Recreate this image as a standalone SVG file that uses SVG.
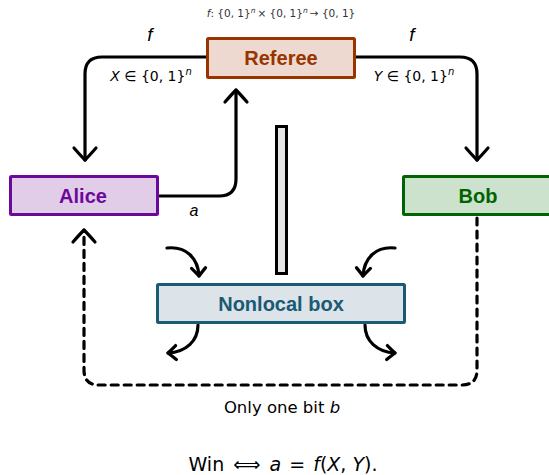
<svg xmlns="http://www.w3.org/2000/svg" width="549" height="475" viewBox="0 0 549 475">
<style>
text{font-family:"Liberation Sans","DejaVu Sans",sans-serif;text-anchor:middle;}
.lbl{font-weight:bold;font-size:20px;}
.t{font-family:"DejaVu Sans","Liberation Sans",sans-serif;}
.m{font-style:italic;}
.conn{fill:none;stroke:#000;stroke-width:3.2;stroke-linecap:round;stroke-linejoin:round;}
.dash{stroke-dasharray:7 6;stroke-linecap:round;}
.tip{fill:none;stroke:#000;stroke-width:3.2;stroke-linecap:round;stroke-linejoin:round;}
</style>
<defs>
<marker id="big" markerUnits="userSpaceOnUse" markerWidth="30" markerHeight="30" viewBox="-15 -15 30 30" refX="0" refY="0" orient="auto" overflow="visible">
<path class="tip" d="M-12,-11 Q-4,-4 0,0 Q-4,4 -12,11"/>
</marker>
<marker id="small" markerUnits="userSpaceOnUse" markerWidth="20" markerHeight="20" viewBox="-10 -10 20 20" refX="0" refY="0" orient="auto" overflow="visible">
<path class="tip" d="M-8,-7 Q-3,-2.5 0,0 Q-3,2.5 -8,7"/>
</marker>
</defs>

<g id="connectors">
<path class="conn" d="M207,57 H102 Q85,57 85,74 V160" marker-end="url(#big)"/>
<path class="conn" d="M355,57 H460 Q477,57 477,74 V160" marker-end="url(#big)"/>
<path class="conn" d="M158,196 H219 Q236,196 236,179 V90" marker-end="url(#big)"/>
<path class="conn dash" d="M477,218 V370 Q477,385 462,385 H99 Q84,385 84,370 V230" marker-end="url(#big)"/>
<path class="conn" d="M167,248 C186,246 198,258 199,276" marker-end="url(#small)"/>
<path class="conn" d="M395,248 C376,246 364,258 363,276" marker-end="url(#small)"/>
<path class="conn" d="M198,325 C198,341 186,352 168,353" marker-end="url(#small)"/>
<path class="conn" d="M365,325 C365,341 377,352 395,353" marker-end="url(#small)"/>
</g>

<g id="pillar">
<rect x="276.5" y="126.5" width="10" height="147" fill="#e6e6e6" stroke="#000" stroke-width="3"/>
</g>

<g id="referee">
<rect x="207.5" y="38.5" width="147" height="39" fill="#edd9cf" stroke="#993300" stroke-width="3" rx="1"/>
<text class="lbl" x="281" y="65" fill="#993300">Referee</text>
</g>

<g id="alice">
<rect x="10.5" y="176.5" width="147" height="38" fill="#e1cde8" stroke="#6b0a9a" stroke-width="3" rx="1"/>
<text class="lbl" x="83" y="203" fill="#6b0a9a">Alice</text>
</g>

<g id="bob">
<rect x="403.5" y="176.5" width="147" height="38" fill="#cde2cd" stroke="#006400" stroke-width="3" rx="1"/>
<text class="lbl" x="478" y="203" fill="#006400">Bob</text>
</g>

<g id="nonlocal">
<rect x="157.5" y="284.5" width="247" height="38" fill="#dce4ea" stroke="#1a5a73" stroke-width="3" rx="1"/>
<text class="lbl" x="281" y="311" fill="#1a5a73">Nonlocal box</text>
</g>

<g id="labels">
<text class="t" x="281" y="17" font-size="10.5" fill="#333"><tspan class="m">f</tspan>: {0, 1}<tspan font-size="7.5" dy="-4" class="m">n</tspan><tspan dy="4" dx="2">× {0, 1}</tspan><tspan font-size="7.5" dy="-4" class="m">n</tspan><tspan dy="4" dx="2">→ {0, 1}</tspan></text>
<text x="150" y="41" font-size="19" class="m">f</text>
<text x="412" y="41" font-size="19" class="m">f</text>
<text class="t" x="151" y="81" font-size="14"><tspan class="m">X</tspan> ∈ {0, 1}<tspan font-size="10" dy="-6" class="m">n</tspan></text>
<text class="t" x="414" y="81" font-size="14"><tspan class="m">Y</tspan> ∈ {0, 1}<tspan font-size="10" dy="-6" class="m">n</tspan></text>
<text x="194" y="216" font-size="16" class="m">a</text>
<text class="t" x="282" y="413" font-size="16.5">Only one bit <tspan class="m">b</tspan></text>
<text class="t" x="283" y="471" font-size="19">Win <tspan dx="3">⟺</tspan> <tspan dx="3" class="m">a</tspan> <tspan dx="2">=</tspan> <tspan dx="2" class="m">f</tspan>(<tspan class="m">X</tspan>, <tspan class="m">Y</tspan>).</text>
</g>
</svg>
